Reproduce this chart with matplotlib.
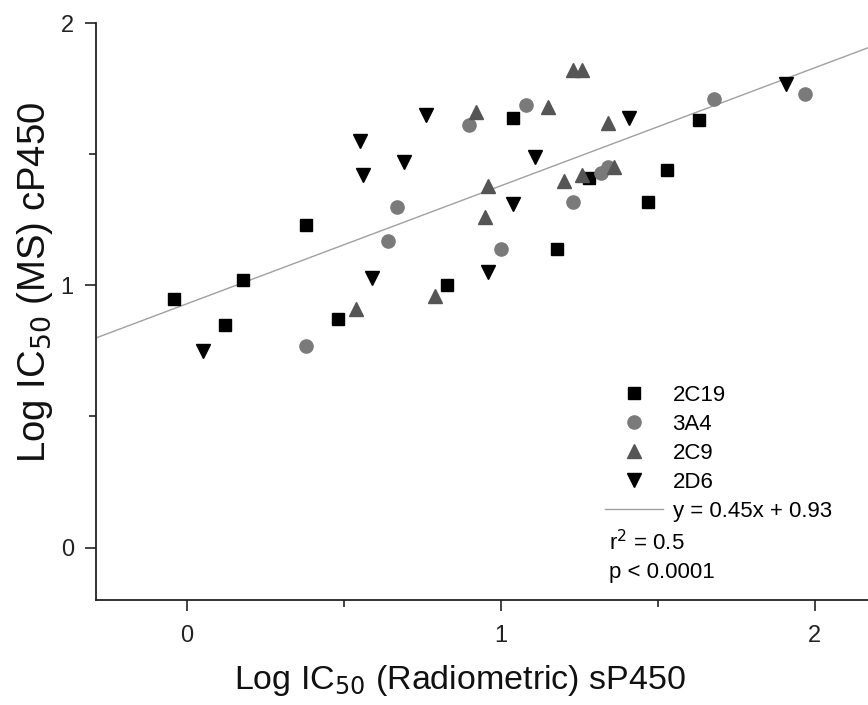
import numpy as np
import matplotlib.pyplot as plt
from matplotlib.lines import Line2D

plt.rcParams['font.family'] = ['Liberation Sans', 'DejaVu Sans']

# Log IC50 values (x: radiometric sP450, y: MS cP450)
x_2c19 = [-0.04, 0.12, 0.18, 0.38, 0.48, 0.83, 1.04, 1.18, 1.28, 1.47, 1.53, 1.63]
y_2c19 = [0.95, 0.85, 1.02, 1.23, 0.87, 1.00, 1.64, 1.14, 1.41, 1.32, 1.44, 1.63]

x_3a4 = [0.38, 0.64, 0.67, 0.90, 1.00, 1.08, 1.23, 1.32, 1.34, 1.68, 1.97]
y_3a4 = [0.77, 1.17, 1.30, 1.61, 1.14, 1.69, 1.32, 1.43, 1.45, 1.71, 1.73]

x_2c9 = [0.54, 0.79, 0.92, 0.95, 0.96, 1.15, 1.20, 1.23, 1.26, 1.26, 1.34, 1.36]
y_2c9 = [0.91, 0.96, 1.66, 1.26, 1.38, 1.68, 1.40, 1.82, 1.82, 1.42, 1.62, 1.45]

x_2d6 = [0.05, 0.55, 0.56, 0.59, 0.69, 0.76, 0.96, 1.04, 1.11, 1.41, 1.91]
y_2d6 = [0.75, 1.55, 1.42, 1.03, 1.47, 1.65, 1.05, 1.31, 1.49, 1.64, 1.77]

slope, intercept = 0.45, 0.93
fit_label = 'y = 0.45x + 0.93'
r2_text = 'r$^2$ = 0.5'
p_text = 'p < 0.0001'

fig = plt.figure(figsize=(8.68, 7.05), dpi=100)
ax = fig.add_axes([0.1106, 0.149, 0.8894, 0.818])

xmin, xmax = -0.29, 2.17
xl = np.array([xmin, xmax])
ax.plot(xl, slope * xl + intercept, color='#a0a0a0', lw=1.0, zorder=1)

ax.plot(x_2c19, y_2c19, 's', color='black', ms=8.5, ls='none', zorder=3)
ax.plot(x_3a4, y_3a4, 'o', color='#7a7a7a', ms=9.5, ls='none', zorder=3)
ax.plot(x_2c9, y_2c9, '^', color='#555555', ms=10.5, ls='none', zorder=3)
ax.plot(x_2d6, y_2d6, 'v', color='black', ms=10.5, ls='none', zorder=3)

ax.set_xlim(xmin, xmax)
ax.set_ylim(-0.2, 2.0)
ax.set_xticks([0, 1, 2])
ax.set_yticks([0, 1, 2])
ax.set_xticks([0.5, 1.5], minor=True)
ax.set_yticks([0.5, 1.5], minor=True)
ax.tick_params(which='major', direction='out', length=8, width=1.2, labelsize=17,
               colors='#222222')
ax.tick_params(axis='x', which='major', pad=10)
ax.tick_params(axis='y', which='major', pad=8)
ax.tick_params(which='minor', direction='out', length=5, width=1.2, colors='#222222')
ax.spines['top'].set_visible(False)
ax.spines['right'].set_visible(False)
for s in ['left', 'bottom']:
    ax.spines[s].set_linewidth(1.3)
    ax.spines[s].set_color('#222222')

ax.set_xlabel('Log IC$_{50}$ (Radiometric) sP450', fontsize=24.5, color='#111111')
ax.set_ylabel('Log IC$_{50}$ (MS) cP450', fontsize=27.5, color='#111111')
ax.xaxis.set_label_coords(0.471, -0.139)
ax.xaxis.label.set_va('center')
ax.yaxis.set_label_coords(-0.079, 0.55)
ax.yaxis.label.set_va('center')

handles = [
    Line2D([], [], marker='s', color='black', ls='none', ms=8.5),
    Line2D([], [], marker='o', color='#7a7a7a', ls='none', ms=9.5),
    Line2D([], [], marker='^', color='#555555', ls='none', ms=10.5),
    Line2D([], [], marker='v', color='black', ls='none', ms=10.5),
    Line2D([], [], color='#a0a0a0', lw=1.0),
]
labels = ['2C19', '3A4', '2C9', '2D6', fit_label]
ax.legend(handles, labels, loc='upper left', bbox_to_anchor=(0.659, 0.373),
          frameon=False, fontsize=16, handlelength=2.6, handletextpad=0.45,
          labelspacing=0.36, borderpad=0, borderaxespad=0)

ax.text(0.665, 0.099, r2_text, transform=ax.transAxes, fontsize=16, va='center')
ax.text(0.665, 0.048, p_text, transform=ax.transAxes, fontsize=16, va='center')

fig.savefig('out.png', dpi=100)
